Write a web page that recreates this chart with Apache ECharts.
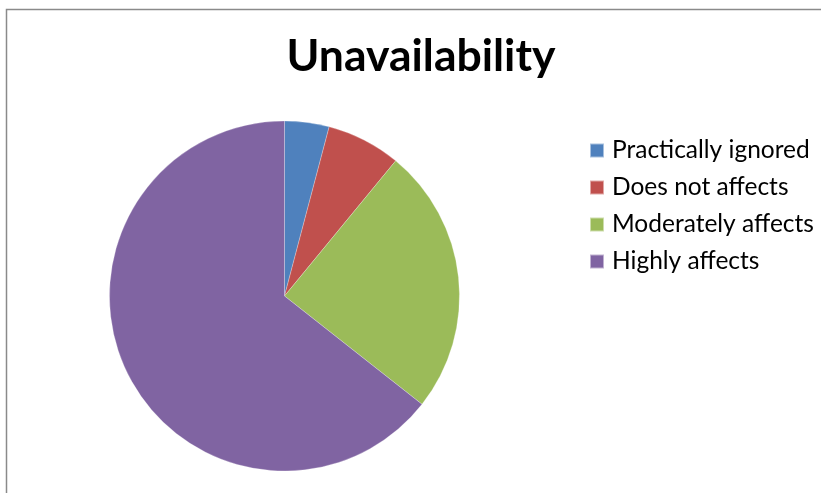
<!DOCTYPE html>
<html>
<head>
<meta charset="utf-8">
<script src="https://cdn.jsdelivr.net/npm/echarts@6/dist/echarts.min.js"></script>
<style>
  html, body { margin: 0; padding: 0; background: #fff; }
  #chart { width: 821px; height: 493px; }
</style>
</head>
<body>
<div id="chart"></div>
<script>
// Survey responses: how unavailability affects respondents
const categories = ['Practically ignored', 'Does not affects', 'Moderately affects', 'Highly affects'];
const counts = [3, 5, 18, 47];
const colors = ['#4F81BD', '#C0504D', '#9BBB59', '#8064A2'];

const chart = echarts.init(document.getElementById('chart'), null, { renderer: 'canvas' });

chart.setOption({
  animation: false,
  backgroundColor: '#fff',
  color: colors,
  title: {
    text: 'Unavailability',
    left: 421,
    textAlign: 'center',
    top: 34,
    padding: 0,
    textStyle: {
      fontFamily: 'Lato',
      fontWeight: 'bold',
      fontSize: 44.5,
      color: '#000'
    }
  },
  graphic: [{
    type: 'rect',
    shape: { x: 6.5, y: 9.5, width: 900, height: 600 },
    style: { fill: 'none', stroke: '#8a8a8a', lineWidth: 1.5 },
    silent: true
  }],
  legend: {
    orient: 'vertical',
    left: 589,
    top: 138,
    padding: 0,
    itemWidth: 14,
    itemHeight: 14,
    itemGap: 12,
    icon: 'rect',
    textStyle: {
      fontFamily: 'Lato',
      fontSize: 24.5,
      color: '#000',
      padding: [0, 0, 0, 3]
    },
    data: categories
  },
  series: [{
    type: 'pie',
    center: [284.5, 296],
    radius: 175,
    startAngle: 90,
    clockwise: true,
    label: { show: false },
    labelLine: { show: false },
    itemStyle: { borderColor: 'rgba(255,255,255,0.5)', borderWidth: 0.5 },
    data: categories.map((name, i) => ({ name, value: counts[i] }))
  }]
});
</script>
</body>
</html>
